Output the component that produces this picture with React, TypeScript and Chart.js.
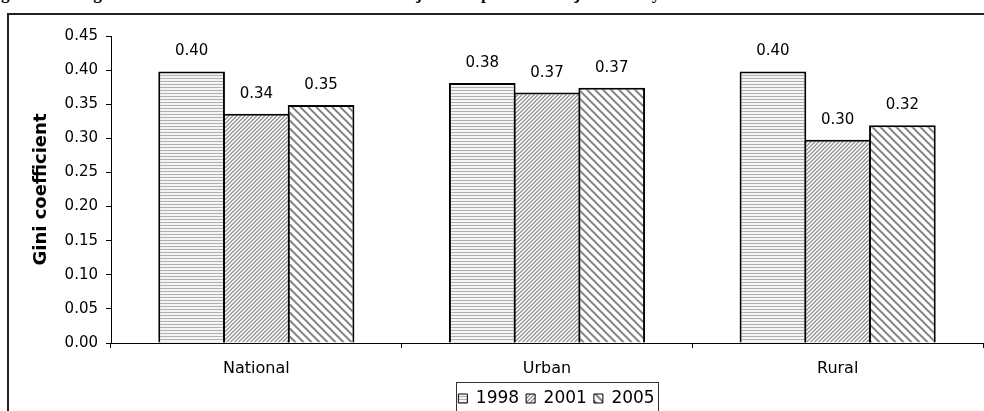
import { useEffect, useRef } from 'react';
import { Chart, registerables } from 'chart.js';

Chart.register(...registerables);

const categories = ['National', 'Urban', 'Rural'];
const seriesLabels = ['1998', '2001', '2005'];
const values1998 = [0.398, 0.381, 0.398];
const values2001 = [0.336, 0.367, 0.298];
const values2005 = [0.349, 0.374, 0.319];
const yMin = 0;
const yMax = 0.45;
const yStep = 0.05;
const yTitle = 'Gini coefficient';
const pageTitle =
  'Figura 1.: Desigualdad en Coeficientes de Gini: Unidades Ajustadas para el Paisaje Urbano y Rural de Colombia';

const FONT = '"DejaVu Sans", "Liberation Sans", Arial, sans-serif';

function hexToRgb(h: string): [number, number, number] {
  const n = parseInt(h.slice(1), 16);
  return [(n >> 16) & 255, (n >> 8) & 255, n & 255];
}

function makePattern(kind: 'h' | 'fine' | 'wide'): CanvasPattern | string {
  const c = document.createElement('canvas');
  let size: number;
  if (kind === 'h') size = 3;
  else if (kind === 'fine') size = 4;
  else size = 8;
  c.width = size;
  c.height = size;
  const ctx = c.getContext('2d');
  if (!ctx) return '#ccc';
  const img = ctx.createImageData(size, size);
  const fg = hexToRgb(kind === 'h' ? '#b0b0b0' : kind === 'fine' ? '#8a8a8a' : '#808080');
  const bg = hexToRgb(kind === 'h' ? '#f4f4f4' : '#ffffff');
  const thick = kind === 'fine' ? 1.6 : 2.7;
  const S = 4;
  for (let y = 0; y < size; y++) {
    for (let x = 0; x < size; x++) {
      let cov = 0;
      if (kind === 'h') {
        cov = y === 0 ? 1 : 0;
      } else {
        let hit = 0;
        for (let sy = 0; sy < S; sy++) {
          for (let sx = 0; sx < S; sx++) {
            const px = x + (sx + 0.5) / S;
            const py = y + (sy + 0.5) / S;
            const t = kind === 'fine' ? px + py : px - py;
            const m = ((t % size) + size) % size;
            if (m < thick) hit++;
          }
        }
        cov = hit / (S * S);
      }
      const i = (y * size + x) * 4;
      img.data[i] = Math.round(fg[0] * cov + bg[0] * (1 - cov));
      img.data[i + 1] = Math.round(fg[1] * cov + bg[1] * (1 - cov));
      img.data[i + 2] = Math.round(fg[2] * cov + bg[2] * (1 - cov));
      img.data[i + 3] = 255;
    }
  }
  ctx.putImageData(img, 0, 0);
  return ctx.createPattern(c, 'repeat') || '#ccc';
}

export default function App() {
  const ref = useRef<HTMLCanvasElement>(null);

  useEffect(() => {
    const canvas = ref.current;
    if (!canvas) return;
    const pats = [makePattern('h'), makePattern('fine'), makePattern('wide')];
    const seriesValues = [values1998, values2001, values2005];

    const valueLabels = {
      id: 'valueLabels',
      afterDatasetsDraw(chart: any) {
        const ctx = chart.ctx as CanvasRenderingContext2D;
        ctx.save();
        ctx.font = `15px ${FONT}`;
        ctx.fillStyle = '#000';
        ctx.textAlign = 'center';
        ctx.textBaseline = 'alphabetic';
        chart.data.datasets.forEach((ds: any, i: number) => {
          const meta = chart.getDatasetMeta(i);
          meta.data.forEach((el: any, j: number) => {
            const v = ds.data[j] as number;
            ctx.fillText(v.toFixed(2), el.x, el.y - 16);
          });
        });
        ctx.restore();
      },
    };

    const legendShift = {
      id: 'legendShift',
      afterLayout(chart: any) {
        const lg = chart.legend;
        if (!lg) return;
        lg.left += 65;
        lg.right += 65;
      },
    };

    const legendBorder = {
      id: 'legendBorder',
      afterDraw(chart: any) {
        const hb = chart.legend?.legendHitBoxes as any[] | undefined;
        if (!hb || !hb.length) return;
        const l = Math.min(...hb.map((h) => h.left));
        const r = Math.max(...hb.map((h) => h.left + h.width));
        const t = Math.min(...hb.map((h) => h.top));
        const b = Math.max(...hb.map((h) => h.top + h.height));
        const ctx = chart.ctx as CanvasRenderingContext2D;
        ctx.save();
        ctx.strokeStyle = '#333';
        ctx.lineWidth = 1;
        const x0 = Math.round(l - 2) + 0.5;
        const x1 = Math.round(r + 3) + 0.5;
        const y0 = Math.round(t - 8) + 0.5;
        const y1 = Math.round(b + 4) + 0.5;
        ctx.strokeRect(x0, y0, x1 - x0, y1 - y0);
        ctx.restore();
      },
    };

    const chart = new Chart(canvas, {
      type: 'bar',
      data: {
        labels: categories,
        datasets: seriesLabels.map((label, i) => ({
          label,
          data: seriesValues[i],
          backgroundColor: pats[i] as any,
          borderColor: '#000',
          borderWidth: 2,
          categoryPercentage: 0.668,
          barPercentage: 1.03,
        })),
      },
      options: {
        responsive: false,
        animation: false,
        layout: { padding: { top: 36, left: 0, right: 1, bottom: 0 } },
        plugins: {
          tooltip: { enabled: false },
          title: { display: false },
          legend: {
            display: true,
            position: 'bottom',
            labels: {
              font: { family: FONT, size: 17 },
              color: '#000',
              boxWidth: 9,
              boxHeight: 9,
              padding: 7,
              generateLabels: (c: any) =>
                Chart.defaults.plugins.legend.labels
                  .generateLabels(c)
                  .map((it: any) => ({ ...it, lineWidth: 1 })),
            },
          },
        },
        scales: {
          x: {
            type: 'category',
            grid: {
              display: true,
              offset: true,
              drawOnChartArea: false,
              drawTicks: true,
              tickLength: 5,
              color: '#000',
            },
            border: { display: true, color: '#000', width: 1 },
            ticks: {
              font: { family: FONT, size: 16 },
              color: '#000',
              padding: 11,
              maxRotation: 0,
              minRotation: 0,
            },
            afterFit(scale: any) {
              scale.height = 40;
            },
          },
          y: {
            min: yMin,
            max: yMax,
            grid: {
              display: true,
              drawOnChartArea: false,
              drawTicks: true,
              tickLength: 5,
              color: '#000',
            },
            border: { display: true, color: '#000', width: 1 },
            ticks: {
              stepSize: yStep,
              font: { family: FONT, size: 15 },
              color: '#000',
              padding: 8,
              callback: (v: any) => Number(v).toFixed(2),
            },
            title: {
              display: true,
              text: yTitle,
              font: { family: FONT, size: 18, weight: 'bold' },
              color: '#000',
              padding: { top: 31, bottom: 0 },
            },
            afterFit(scale: any) {
              scale.width = 111;
            },
          },
        },
      },
      plugins: [valueLabels, legendShift, legendBorder],
    });
    return () => chart.destroy();
  }, []);

  return (
    <div
      style={{
        position: 'fixed',
        left: 0,
        top: 0,
        width: 984,
        height: 411,
        overflow: 'hidden',
        background: '#fff',
      }}
    >
      <div
        style={{
          position: 'absolute',
          left: -14,
          top: -14,
          whiteSpace: 'nowrap',
          font: 'bold 17px "Liberation Serif", "Times New Roman", serif',
          lineHeight: '16px',
          color: '#000',
        }}
      >
        {pageTitle}
      </div>
      <div
        style={{
          position: 'absolute',
          left: 7,
          top: 13,
          width: 1000,
          height: 430,
          border: '2px solid #222',
          boxSizing: 'border-box',
          background: '#fff',
        }}
      />
      <canvas
        ref={ref}
        width={984}
        height={417}
        style={{ position: 'absolute', left: 0, top: 0, width: 984, height: 417 }}
      />
    </div>
  );
}
